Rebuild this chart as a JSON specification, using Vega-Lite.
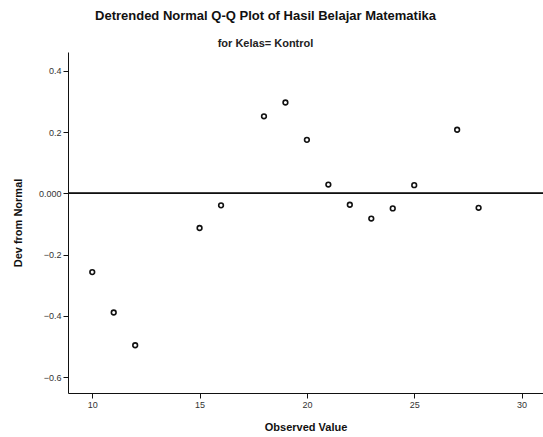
{
  "$schema": "https://vega.github.io/schema/vega-lite/v6.json",
  "width": 475,
  "height": 341,
  "autosize": "none",
  "padding": {"left": 68, "top": 52, "right": 0, "bottom": 44},
  "background": "white",
  "title": {
    "text": "Detrended Normal Q-Q Plot of Hasil Belajar Matematika",
    "subtitle": "for Kelas= Kontrol",
    "anchor": "middle",
    "dx": -40,
    "font": "Liberation Sans",
    "fontSize": 13,
    "fontWeight": "bold",
    "color": "#111",
    "subtitleFont": "Liberation Sans",
    "subtitleFontSize": 11,
    "subtitleFontWeight": "bold",
    "subtitleColor": "#222",
    "offset": 3,
    "subtitlePadding": 15
  },
  "config": {
    "view": {"stroke": null},
    "axis": {
      "grid": false,
      "domainColor": "#111",
      "tickColor": "#111",
      "tickSize": 5,
      "labelFont": "Liberation Sans",
      "labelFontSize": 9,
      "labelColor": "#333",
      "titleFont": "Liberation Sans",
      "titleFontSize": 11,
      "titleFontWeight": "bold",
      "titleColor": "#111"
    }
  },
  "data": {
    "values": [
      {"observed": 10, "dev": -0.257},
      {"observed": 11, "dev": -0.389},
      {"observed": 12, "dev": -0.496},
      {"observed": 15, "dev": -0.113},
      {"observed": 16, "dev": -0.039},
      {"observed": 18, "dev": 0.252},
      {"observed": 19, "dev": 0.297},
      {"observed": 20, "dev": 0.175},
      {"observed": 21, "dev": 0.029},
      {"observed": 22, "dev": -0.037},
      {"observed": 23, "dev": -0.082},
      {"observed": 24, "dev": -0.049},
      {"observed": 25, "dev": 0.027},
      {"observed": 27, "dev": 0.208},
      {"observed": 28, "dev": -0.047}
    ]
  },
  "layer": [
    {
      "mark": {"type": "point", "shape": "circle", "filled": false, "color": "#111", "size": 22, "strokeWidth": 1.6, "opacity": 1},
      "encoding": {
        "x": {
          "field": "observed", "type": "quantitative",
          "scale": {"domain": [8.87, 31.0], "nice": false, "zero": false},
          "axis": {"title": "Observed Value", "values": [10, 15, 20, 25, 30], "labelPadding": 2, "titlePadding": 12}
        },
        "y": {
          "field": "dev", "type": "quantitative",
          "scale": {"domain": [-0.652, 0.462], "nice": false, "zero": false},
          "axis": {
            "title": "Dev from Normal",
            "values": [-0.6, -0.4, -0.2, 0, 0.2, 0.4],
            "labelExpr": "datum.value == 0 ? '0.000' : format(datum.value, '.1f')",
            "labelPadding": 2,
            "titlePadding": 15
          }
        }
      }
    },
    {
      "mark": {"type": "rule", "color": "#111", "strokeWidth": 1},
      "encoding": {"y": {"datum": 0}}
    }
  ]
}
